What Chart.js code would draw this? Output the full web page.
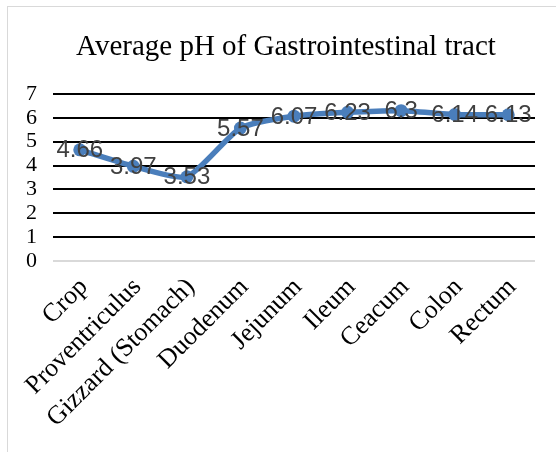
<!DOCTYPE html>
<html><head><meta charset="utf-8">
<script src="https://cdn.jsdelivr.net/npm/chart.js@4/dist/chart.umd.min.js"></script>
<style>
html,body{margin:0;padding:0;background:#fff;}
#wrap{position:relative;width:556px;height:452px;overflow:hidden;}
#frame{position:absolute;left:7px;top:6px;width:600px;height:500px;border:1.5px solid #d9d9d9;box-sizing:border-box;}
canvas{position:absolute;left:0;top:0;}
</style></head>
<body><div id="wrap"><div id="frame"></div><canvas id="c" width="556" height="452"></canvas></div>
<script>
const categories = ["Crop","Proventriculus","Gizzard (Stomach)","Duodenum","Jejunum","Ileum","Ceacum","Colon","Rectum"];
const phValues = [4.66,3.97,3.53,5.57,6.07,6.23,6.3,6.14,6.13];
const yMin = 0, yMax = 7, yStep = 1;
const chartTitle = "Average pH of Gastrointestinal tract";

const SERIF = '"Liberation Serif", "Times New Roman", serif';

const titlePlugin = {
  id:'customTitle',
  afterDraw(chart){
    const ctx = chart.ctx;
    ctx.save();
    ctx.font = '29px ' + SERIF;
    ctx.fillStyle = '#000';
    ctx.textAlign = 'center';
    ctx.textBaseline = 'alphabetic';
    ctx.fillText(chartTitle, 286, 55);
    ctx.restore();
  }
};

const labelPlugin = {
  id:'valueLabels',
  afterDatasetsDraw(chart){
    const ctx = chart.ctx;
    const meta = chart.getDatasetMeta(0);
    ctx.save();
    ctx.font = '24px "Liberation Sans", Arial, sans-serif';
    ctx.fillStyle = '#404040';
    ctx.textAlign = 'center';
    ctx.textBaseline = 'middle';
    meta.data.forEach((pt,i)=>{
      ctx.fillText(String(phValues[i]), pt.x, pt.y+1);
    });
    ctx.restore();
  }
};

new Chart(document.getElementById('c'),{
  type:'line',
  data:{labels:categories,datasets:[{
    data:phValues,
    borderColor:'#4a7ebb',
    backgroundColor:'#4a7ebb',
    borderWidth:5.5,
    pointRadius:6.5,
    pointBorderWidth:0,
    pointBackgroundColor:'#4a7ebb',
    tension:0.2
  }]},
  options:{
    responsive:false,
    animation:false,
    layout:{padding:{left:0,right:21,top:94,bottom:0}},
    plugins:{
      legend:{display:false},
      tooltip:{enabled:false},
      title:{display:false}
    },
    scales:{
      x:{
        offset:true,
        grid:{display:false},
        border:{display:false},
        ticks:{color:'#000',autoSkip:false,maxRotation:45,minRotation:45,padding:3,labelOffset:4,
          font:{family:SERIF,size:26}},
        afterFit(s){s.height=191;}
      },
      y:{
        min:yMin,max:yMax,
        grid:{drawTicks:false,lineWidth:2,color:(c)=>c.tick && c.tick.value===0?'#d9d9d9':'#000'},
        border:{display:false},
        ticks:{color:'#000',padding:16,stepSize:yStep,autoSkip:false,
          font:{family:SERIF,size:22}},
        afterFit(s){s.width=53;}
      }
    }
  },
  plugins:[labelPlugin,titlePlugin]
});
</script></body></html>
